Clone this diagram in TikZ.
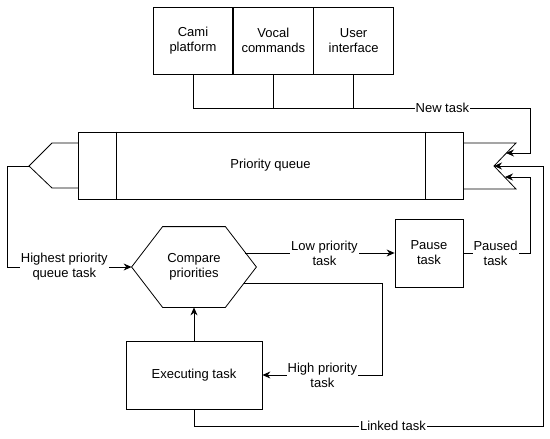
\documentclass[tikz,border=0pt]{standalone}
\usepackage{fontspec}
\setmainfont{Liberation Sans}
\usetikzlibrary{positioning, arrows.meta}

\begin{document}
\begin{tikzpicture}[x=1pt, y=-1pt, line width=0.8pt,
    txt/.style={align=center, inner sep=0pt, font=\fontsize{13}{15}\selectfont},
    box/.style={txt, draw},
    source/.style={box, minimum width=79.5pt, minimum height=67pt},
    lbl/.style={txt, fill=white, inner sep=1pt},
    arrow/.style={-{Stealth[length=8pt, width=7pt]}}
  ]
  \useasboundingbox (0,0) rectangle (550,439);

  % input sources
  \node [source] (cami) at (193,40.5) {Cami\\platform};
  \node [source, right=0pt of cami] (vocal) {Vocal\\commands};
  \node [source, right=0pt of vocal] (user) {User\\interface};

  % queue
  \node [box, minimum width=385pt, minimum height=67pt] (queue) at (270.5,165.5) {Priority queue};
  \draw ([xshift=38.5pt]queue.north west) -- ([xshift=38.5pt]queue.south west);
  \draw ([xshift=-38pt]queue.north east) -- ([xshift=-38pt]queue.south east);
  \coordinate (qout) at (29,166);
  \coordinate (qin) at (494,166);
  \coordinate (newin) at (506,153);
  \coordinate (pausein) at (505,177);
  \draw (78,143) -- (52,143) -- (qout) -- (52,188) -- (78,188);
  \draw (queue.east |- 0,143) -- (516,143) -- (qin) -- (516,189) -- (queue.east |- 0,189);

  % processing
  \node [txt, minimum width=124pt, minimum height=80pt] (hex) at (194,267) {Compare\\priorities};
  \draw (hex.west) -- ([xshift=31pt]hex.north west) -- ([xshift=-31pt]hex.north east)
    -- (hex.east) -- ([xshift=-31pt]hex.south east) -- ([xshift=31pt]hex.south west) -- cycle;
  \node [box, minimum width=68pt, minimum height=68pt] (pause) at (429,253) {Pause\\task};
  \node [box, minimum width=136pt, minimum height=68pt] (exec) at (194,375) {Executing task};

  \coordinate (newturn) at (530,108);
  \coordinate (linkturn) at (543,426);

  % connectors
  \draw [arrow] (cami.south) |- node [lbl, pos=0.87] {New task} (newturn) |- (newin);
  \draw (vocal.south) -- (vocal.south |- newturn);
  \draw (user.south) -- (user.south |- newturn);
  \draw [arrow] (qout) -- ++(-22,0) |- node [lbl, pos=0.73] {Highest priority\\queue task} (hex.west);
  \draw [arrow] ([xshift=-11pt, yshift=14pt]hex.east) -- node [lbl, pos=0.53] {Low priority\\task} (pause.west);
  \draw [arrow] ([xshift=-12pt, yshift=-16pt]hex.east) -- ++(138,0) |- node [lbl, pos=0.75] {High priority\\task} (exec.east);
  \draw [arrow] (pause.east) -- node [lbl, pos=0.48] {Paused\\task} ++(67,0) |- (pausein);
  \draw [arrow] (exec.north) -- (hex.south);
  \draw [arrow] (exec.south) |- node [lbl, pos=0.785] {Linked task} (linkturn) |- (qin);
\end{tikzpicture}
\end{document}
